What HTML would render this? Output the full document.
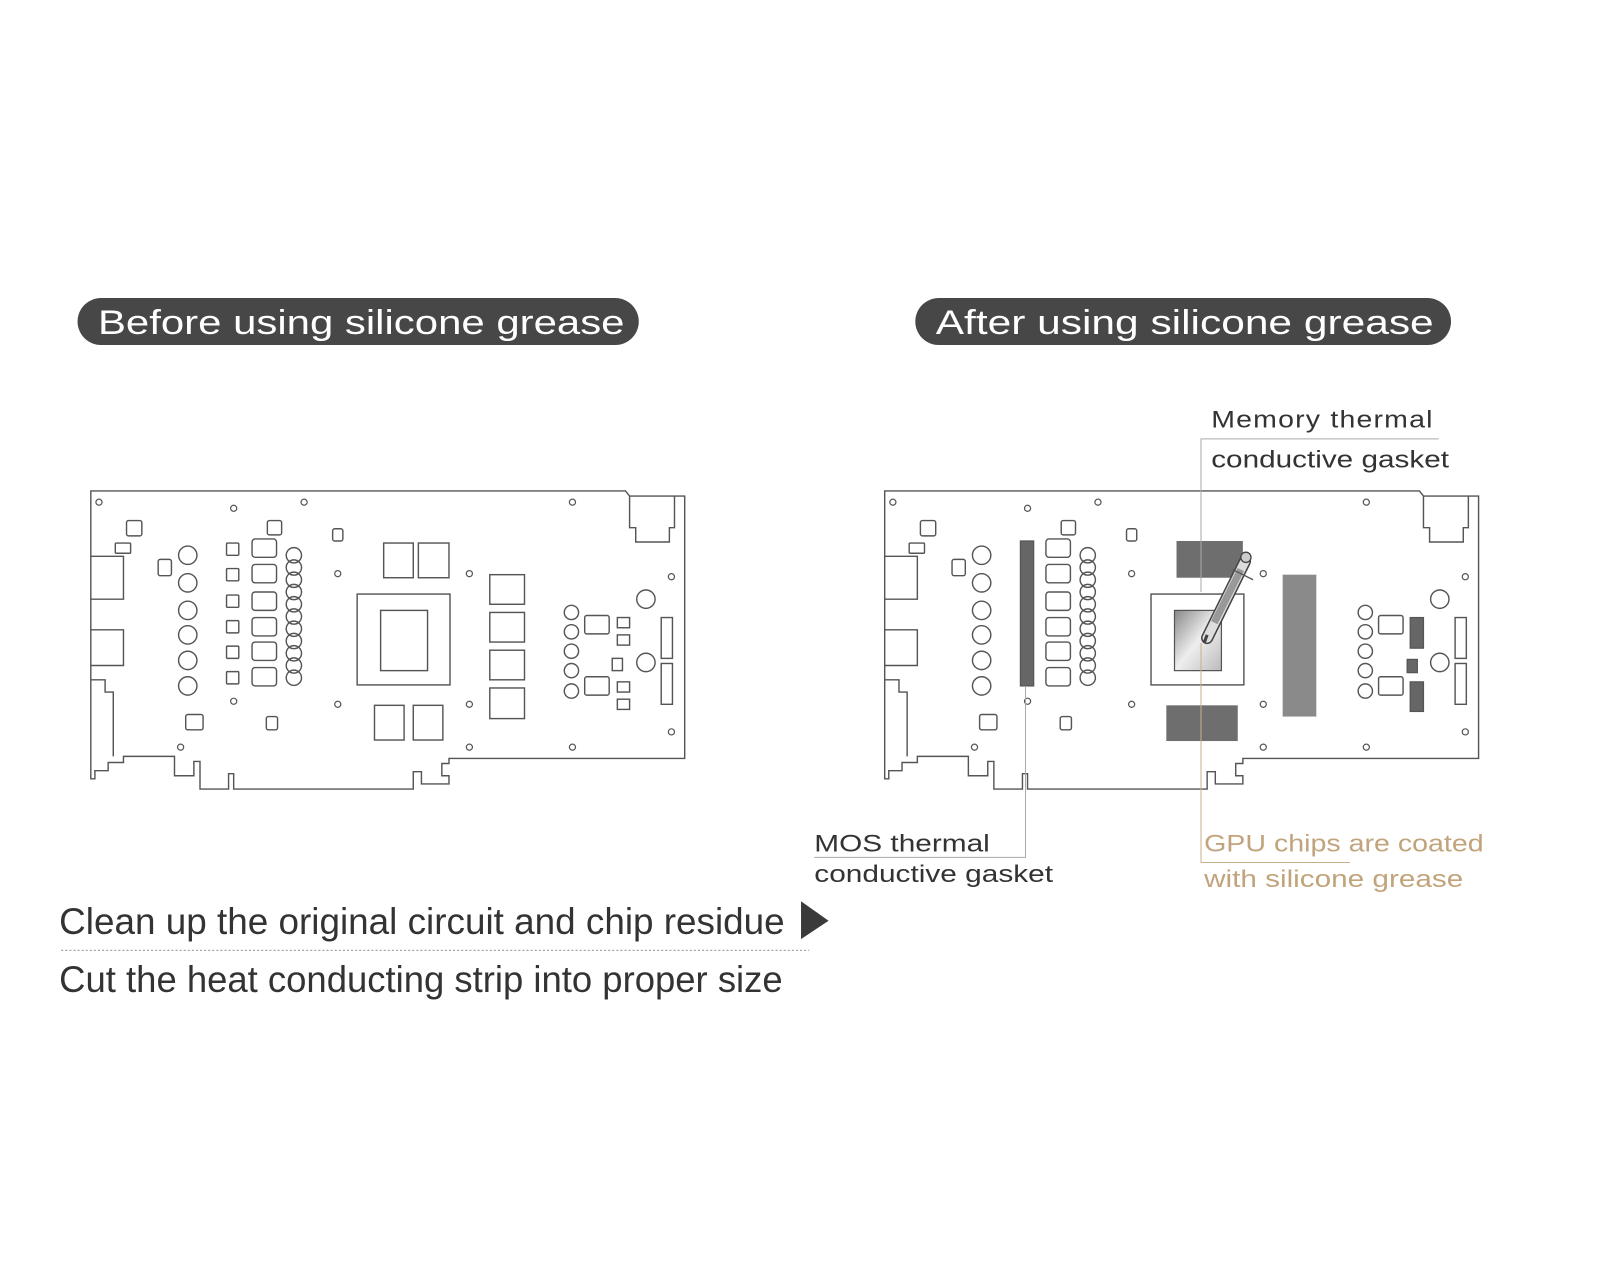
<!DOCTYPE html>
<html><head><meta charset="utf-8"><style>
html,body{margin:0;padding:0;background:#fff;}
svg{display:block;}
</style></head><body>
<svg width="1600" height="1280" viewBox="0 0 1568 1254" preserveAspectRatio="none" xmlns="http://www.w3.org/2000/svg" font-family="'Liberation Sans', sans-serif">
<rect width="1568" height="1254" fill="#fff"/>
<defs>
<g id="board" fill="none" stroke="#555" stroke-width="1.4">
  <path d="M89,481 H613 L617,486 H671 V743 H440 V748 H433 V760 H440 V768 H413 V756 H405 V773 H229 V758 H224 V773 H196 V746 H190 V760 H171 V741 H121 V747 H106 V755 H93 V763 H89 Z"/>
  <path d="M617,486 V517 H623 V531 H656 V517 H661 V486"/>
  <path d="M89,545 H121 V587 H89 M89,617 H121 V652 H89 M89,666 H103 V678 H111 V741"/>
  <g stroke-width="1.2">
    <circle cx="97" cy="492" r="3"/><circle cx="229" cy="498" r="3"/><circle cx="298" cy="492" r="3"/><circle cx="561" cy="492" r="3"/>
    <circle cx="331" cy="562" r="3"/><circle cx="460" cy="562" r="3"/><circle cx="658" cy="565" r="3"/>
    <circle cx="229" cy="687" r="3"/><circle cx="331" cy="690" r="3"/><circle cx="460" cy="690" r="3"/>
    <circle cx="177" cy="732" r="3"/><circle cx="460" cy="732" r="3"/><circle cx="561" cy="732" r="3"/><circle cx="658" cy="717" r="3"/>
  </g>
  <rect x="124" y="510" width="15" height="15" rx="2"/>
  <rect x="113" y="532" width="15" height="10" rx="1"/>
  <rect x="155" y="548" width="13" height="16" rx="2"/>
  <rect x="262" y="510" width="14" height="14" rx="2"/>
  <rect x="326" y="518" width="10" height="12" rx="2"/>
  <g><circle cx="184" cy="544" r="9"/><circle cx="184" cy="571" r="9"/><circle cx="184" cy="598" r="9"/><circle cx="184" cy="622" r="9"/><circle cx="184" cy="647" r="9"/><circle cx="184" cy="672" r="9"/></g>
  <g><rect x="247" y="528" width="24" height="18" rx="3"/><rect x="247" y="553" width="24" height="18" rx="3"/><rect x="247" y="580" width="24" height="18" rx="3"/><rect x="247" y="605" width="24" height="18" rx="3"/><rect x="247" y="629" width="24" height="18" rx="3"/><rect x="247" y="654" width="24" height="18" rx="3"/></g>
  <g><circle cx="288" cy="544" r="7.5"/><circle cx="288" cy="556" r="7.5"/><circle cx="288" cy="568" r="7.5"/><circle cx="288" cy="580" r="7.5"/><circle cx="288" cy="592" r="7.5"/><circle cx="288" cy="604" r="7.5"/><circle cx="288" cy="616" r="7.5"/><circle cx="288" cy="628" r="7.5"/><circle cx="288" cy="640" r="7.5"/><circle cx="288" cy="652" r="7.5"/><circle cx="288" cy="664" r="7.5"/></g>
  <rect x="350" y="582" width="91" height="89"/>
  <g><circle cx="560" cy="600" r="7"/><circle cx="560" cy="619" r="7"/><circle cx="560" cy="638" r="7"/><circle cx="560" cy="657" r="7"/><circle cx="560" cy="677" r="7"/></g>
  <rect x="573" y="603" width="24" height="18" rx="2"/>
  <rect x="573" y="663" width="24" height="18" rx="2"/>
  <circle cx="633" cy="587" r="9"/><circle cx="633" cy="649" r="9"/>
  <rect x="648" y="605" width="11" height="40"/><rect x="648" y="650" width="11" height="40"/>
  <rect x="182" y="700" width="17" height="15" rx="2"/>
  <rect x="261" y="702" width="11" height="13" rx="2"/>
</g>
</defs>

<rect x="76" y="292" width="550" height="46" rx="23" fill="#474747"/>
<text x="96" y="327" font-size="34" fill="#fff" textLength="516" lengthAdjust="spacingAndGlyphs">Before using silicone grease</text>
<rect x="897" y="292" width="525" height="46" rx="23" fill="#474747"/>
<text x="917" y="327" font-size="34" fill="#fff" textLength="488" lengthAdjust="spacingAndGlyphs">After using silicone grease</text>

<use href="#board"/>
<g fill="none" stroke="#555" stroke-width="1.4">
  <g><rect x="222" y="532" width="12" height="12" rx="1"/><rect x="222" y="557" width="12" height="12" rx="1"/><rect x="222" y="583" width="12" height="12" rx="1"/><rect x="222" y="608" width="12" height="12" rx="1"/><rect x="222" y="633" width="12" height="12" rx="1"/><rect x="222" y="658" width="12" height="12" rx="1"/></g>
  <rect x="373" y="598" width="46" height="59"/>
  <rect x="376" y="532" width="29" height="34"/><rect x="410" y="532" width="30" height="34"/>
  <rect x="367" y="691" width="29" height="34"/><rect x="405" y="691" width="29" height="34"/>
  <rect x="480" y="563" width="34" height="29"/><rect x="480" y="600" width="34" height="29"/><rect x="480" y="637" width="34" height="29"/><rect x="480" y="674" width="34" height="30"/>
  <rect x="605" y="605" width="12" height="10"/><rect x="605" y="622" width="12" height="10"/><rect x="600" y="645" width="10" height="12"/><rect x="605" y="668" width="12" height="10"/><rect x="605" y="685" width="12" height="10"/>
</g>

<g transform="translate(778,0)"><use href="#board"/></g>
<defs><linearGradient id="gp" x1="0" y1="0" x2="1" y2="1"><stop offset="0" stop-color="#888"/><stop offset="0.5" stop-color="#eee"/><stop offset="1" stop-color="#bbb"/></linearGradient></defs>
<g stroke="#555" stroke-width="1.2">
  <rect x="1000" y="530" width="13" height="142" fill="#666"/>
  <rect x="1151" y="598" width="46" height="59" fill="url(#gp)"/>
  <rect x="1153" y="530" width="65" height="36" fill="#6e6e6e" stroke="none"/>
  <rect x="1143" y="691" width="70" height="35" fill="#6e6e6e" stroke="none"/>
  <rect x="1257" y="563" width="33" height="139" fill="#8a8a8a" stroke="none"/>
  <rect x="1382" y="605" width="13" height="30" fill="#666"/>
  <rect x="1379" y="646" width="10" height="13" fill="#666"/>
  <rect x="1382" y="668" width="13" height="29" fill="#666"/>
</g>
<g stroke="#444" stroke-width="1.3">
  <line x1="1183" y1="625" x2="1220" y2="550" stroke-width="12" stroke-linecap="round"/>
  <line x1="1183" y1="625" x2="1220" y2="550" stroke="#ddd" stroke-width="9" stroke-linecap="round"/>
  <line x1="1190" y1="610" x2="1216" y2="558" stroke="#999" stroke-width="7"/>
  <line x1="1208" y1="558" x2="1228" y2="568" stroke="#555"/>
  <circle cx="1221" cy="546" r="5" fill="#ccc"/>
  <line x1="1180" y1="630" x2="1183" y2="622" stroke="#444" stroke-width="3"/>
</g>
<g fill="none" stroke-width="1">
  <path d="M1177,580 V430 H1410" stroke="#aaa"/>
  <path d="M1005,672 V840 H798" stroke="#aaa"/>
  <path d="M1177,630 V845 H1323" stroke="#c8b08a"/>
</g>
<text x="1187" y="419" font-size="24" fill="#333" letter-spacing="1" textLength="218" lengthAdjust="spacingAndGlyphs">Memory thermal</text>
<text x="1187" y="458" font-size="24" fill="#333" textLength="233" lengthAdjust="spacingAndGlyphs">conductive gasket</text>
<text x="798" y="834" font-size="24" fill="#333" textLength="172" lengthAdjust="spacingAndGlyphs">MOS thermal</text>
<text x="798" y="864" font-size="24" fill="#333" textLength="234" lengthAdjust="spacingAndGlyphs">conductive gasket</text>
<text x="1180" y="834" font-size="24" fill="#c2a47c" textLength="274" lengthAdjust="spacingAndGlyphs">GPU chips are coated</text>
<text x="1180" y="869" font-size="24" fill="#c2a47c" textLength="254" lengthAdjust="spacingAndGlyphs">with silicone grease</text>

<text x="58" y="915" font-size="36" fill="#333" textLength="711" lengthAdjust="spacingAndGlyphs">Clean up the original circuit and chip residue</text>
<polygon points="785,883 812,902 785,920" fill="#3a3a3a"/>
<line x1="60" y1="931" x2="793" y2="931" stroke="#999" stroke-width="1.2" stroke-dasharray="2,2"/>
<text x="58" y="972" font-size="36" fill="#333" textLength="709" lengthAdjust="spacingAndGlyphs">Cut the heat conducting strip into proper size</text>
</svg>
</body></html>
